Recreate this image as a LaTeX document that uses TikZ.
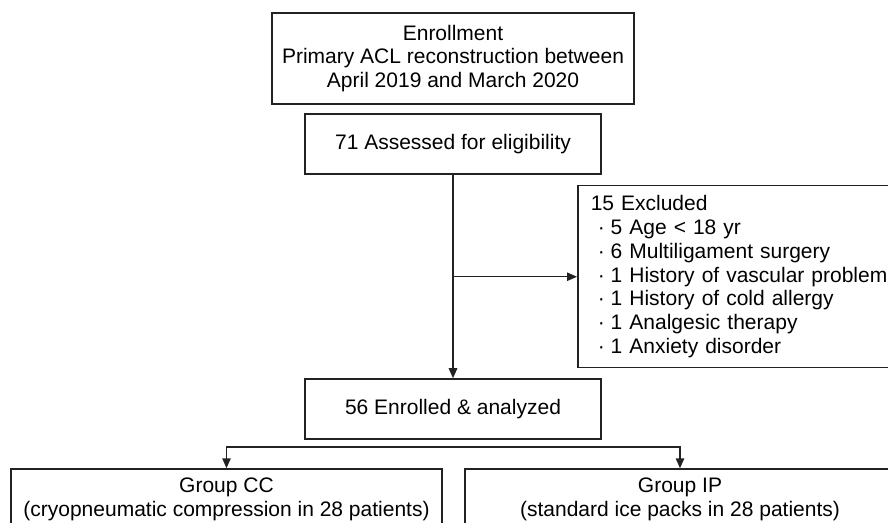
\documentclass[tikz,border=0pt]{standalone}
\usepackage{fontspec}
\setmainfont{Liberation Sans}
\usetikzlibrary{arrows.meta}
\definecolor{linegray}{HTML}{222222}
\newcommand{\exitem}[1]{\makebox[10pt][l]{\hspace{3.6pt}·}#1}

\begin{document}
\begin{tikzpicture}[x=0.5pt, y=-0.5pt, font=\fontsize{10.5}{11.9}\selectfont,
            line width=0.75pt, linegray, text=black,
            box/.style={draw, align=center, inner sep=0pt},
            >={Triangle[length=5pt, width=4.2pt]}]
            \clip (0,0) rectangle (888,523);
            \node[box, minimum width=181pt, minimum height=45.5pt] (enroll) at (453,58.5)
                {Enrollment\\Primary ACL reconstruction between\\April 2019 and March 2020};
            \node[box, minimum width=148pt, minimum height=30pt] (assess) at (453,144)
                {71 Assessed for eligibility};
            \node[box, anchor=north west, align=left, inner xsep=6.5pt, text width=190pt,
                minimum height=91pt] (excl) at (577,185)
                {15 Excluded\\
                \exitem{5 Age < 18 yr}\\
                \exitem{6 Multiligament surgery}\\
                \exitem{1 History of vascular problem}\\
                \exitem{1 History of cold allergy}\\
                \exitem{1 Analgesic therapy}\\
                \exitem{1 Anxiety disorder}};
            \node[box, minimum width=148pt, minimum height=30pt] (enrolled) at (453,409)
                {56 Enrolled \& analyzed};
            \node[box, minimum width=215.5pt, minimum height=30.5pt] (cc) at (226.5,499.5)
                {Group CC\\(cryopneumatic compression in 28 patients)};
            \node[box, minimum width=215pt, minimum height=30.5pt] (ip) at (680,499.5)
                {Group IP\\(standard ice packs in 28 patients)};
            \coordinate (split) at (453,447);
            \draw[->] (assess) -- (enrolled);
            \draw[->] (assess.south |- excl.west) -- (excl.west);
            \draw[->] (split) -| (cc);
            \draw[->] (split) -| (ip);
        \end{tikzpicture}
\end{document}
